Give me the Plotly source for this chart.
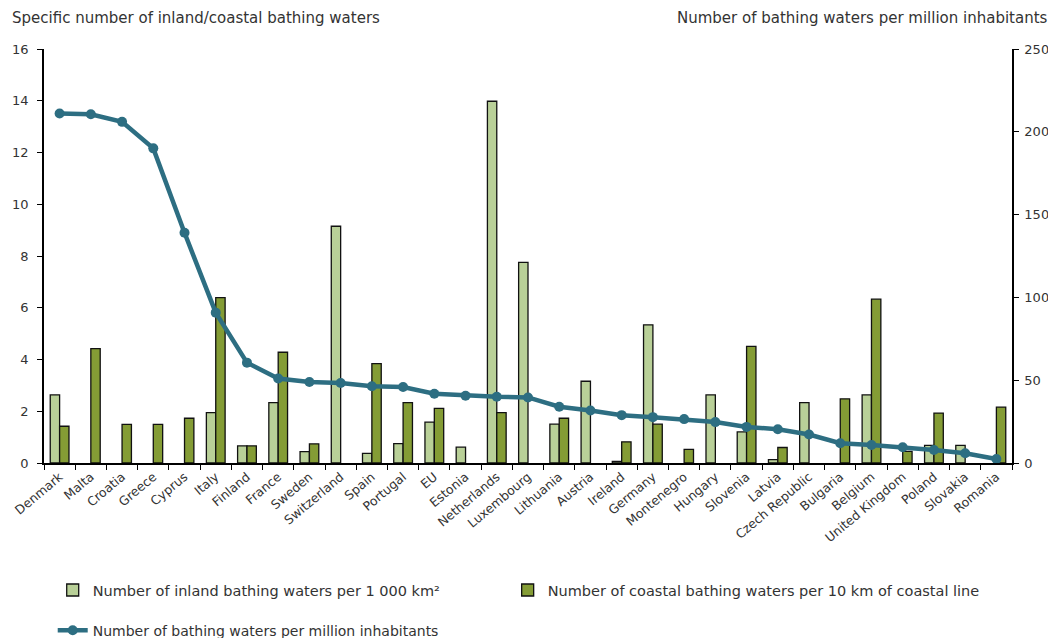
import plotly.graph_objects as go

categories = ["Denmark", "Malta", "Croatia", "Greece", "Cyprus", "Italy", "Finland", "France",
              "Sweden", "Switzerland", "Spain", "Portugal", "EU", "Estonia", "Netherlands",
              "Luxembourg", "Lithuania", "Austria", "Ireland", "Germany", "Montenegro", "Hungary",
              "Slovenia", "Latvia", "Czech Republic", "Bulgaria", "Belgium", "United Kingdom",
              "Poland", "Slovakia", "Romania"]

inland = [2.63, None, None, None, None, 1.95, 0.66, 2.33, 0.44, 9.15, 0.375, 0.75, 1.58, 0.61,
          13.98, 7.75, 1.5, 3.16, 0.06, 5.34, None, 2.63, 1.2, 0.13, 2.33, None, 2.63, None,
          0.68, 0.68, None]

coastal = [1.42, 4.42, 1.49, 1.49, 1.73, 6.39, 0.66, 4.28, 0.74, None, 3.84, 2.33, 2.11, None,
           1.95, None, 1.73, None, 0.82, 1.5, 0.53, None, 4.51, 0.6, None, 2.48, 6.33, 0.45,
           1.93, None, 2.16]

per_million = [211, 210.6, 206, 190, 139, 90.8, 60.6, 51, 48.9, 48.3, 46.3, 45.9, 41.8, 40.6,
               40, 39.6, 34, 31.7, 28.9, 27.7, 26.5, 24.7, 21.8, 20.4, 17.2, 11.9, 10.9, 9.5,
               7.9, 5.9, 2.4]

left_ticks = [0, 2, 4, 6, 8, 10, 12, 14, 16]
right_ticks = [0, 50, 100, 150, 200, 250]

FONT = "DejaVu Sans"
TXT = "#333333"

fig = go.Figure()
fig.add_trace(go.Bar(
    x=categories, y=inland, name="Number of inland bathing waters per 1 000 km²",
    marker=dict(color="#b9d098", line=dict(color="#111111", width=1.3)),
    legend="legend",
))
fig.add_trace(go.Bar(
    x=categories, y=coastal, name="Number of coastal bathing waters per 10 km of coastal line",
    marker=dict(color="#849c35", line=dict(color="#111111", width=1.3)),
    legend="legend3",
))
fig.add_trace(go.Scatter(
    x=categories, y=per_million, name="Number of bathing waters per million inhabitants",
    yaxis="y2", mode="lines+markers",
    line=dict(color="#2d6e82", width=4.5),
    marker=dict(color="#2d6e82", size=10, symbol="circle"),
    legend="legend2",
))

# The page body has an 8 px default margin, so the figure is 8 px smaller on each
# dimension and every position is measured from (8, 8) in the window.
fig.update_layout(
    width=1048, height=630,
    margin=dict(l=36, r=44, t=41, b=175, autoexpand=False),
    paper_bgcolor="white", plot_bgcolor="white",
    barmode="group", bargap=0.4, bargroupgap=0,
    font=dict(family=FONT, size=12, color=TXT),
    showlegend=True,
    legend=dict(orientation="h", x=0.009, xanchor="left", y=-0.307, yanchor="middle",
                font=dict(family=FONT, size=14.5, color=TXT)),
    legend3=dict(orientation="h", x=0.479, xanchor="left", y=-0.307, yanchor="middle",
                 font=dict(family=FONT, size=14.5, color=TXT)),
    legend2=dict(orientation="h", x=0.009, xanchor="left", y=-0.405, yanchor="middle",
                 font=dict(family=FONT, size=14, color=TXT)),
    xaxis=dict(
        automargin=False,
        showline=True, linecolor="black", linewidth=1.5,
        ticks="outside", ticklen=5, tickcolor="black", tickson="boundaries",
        tickangle=-40, tickfont=dict(family=FONT, size=12.5, color=TXT),
        showgrid=False, range=[-0.5, len(categories) - 0.5],
    ),
    yaxis=dict(
        automargin=False,
        range=[0, 16], tickvals=left_ticks, showline=True, linecolor="black", linewidth=1.5,
        ticks="outside", ticklen=5, tickcolor="black", showgrid=False, zeroline=False,
        ticklabelstandoff=6,
        tickfont=dict(family=FONT, size=13, color=TXT),
    ),
    yaxis2=dict(
        automargin=False,
        range=[0, 250], tickvals=right_ticks, overlaying="y", side="right",
        showline=True, linecolor="black", linewidth=1.5,
        ticks="outside", ticklen=5, tickcolor="black", showgrid=False, zeroline=False,
        ticklabelstandoff=3,
        tickfont=dict(family=FONT, size=13, color=TXT),
    ),
    annotations=[
        dict(text="Specific number of inland/coastal bathing waters", xref="paper", yref="paper",
             x=-0.0351, y=1.0, yshift=31, xanchor="left", yanchor="middle", showarrow=False,
             font=dict(family=FONT, size=15, color=TXT)),
        dict(text="Number of bathing waters per million inhabitants", xref="paper", yref="paper",
             x=1.0393, y=1.0, yshift=31, xanchor="right", yanchor="middle", showarrow=False,
             font=dict(family=FONT, size=15, color=TXT)),
    ],
)

fig.write_html("out.html")
